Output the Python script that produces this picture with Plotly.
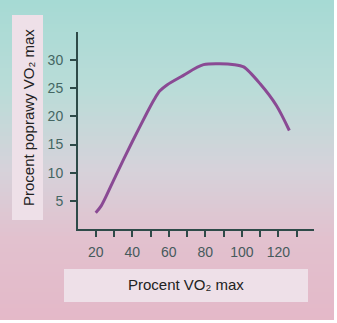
import plotly.graph_objects as go

# Training intensity (% VO2max) vs. improvement of VO2max (%)
intensity = [20, 23, 31, 40, 48, 52, 55, 59, 68, 79, 96, 101, 110, 119, 126]
improvement = [2.9, 4.1, 9.5, 15.5, 20.6, 23.0, 24.5, 25.6, 27.3, 29.2, 29.2, 28.8, 25.8, 21.9, 17.5]

x_tick_vals = [20, 30, 40, 50, 60, 70, 80, 90, 100, 110, 120, 130]
x_tick_text = ["20", "", "40", "", "60", "", "80", "", "100", "", "120", ""]
y_tick_vals = [5, 10, 15, 20, 25, 30]

x_title = "Procent VO₂ max"
y_title = "Procent poprawy VO₂ max"

W, H = 337, 323
L, R, T, B = 78, 23, 32, 94
PW, PH = W - L - R, H - T - B


def px(xp):
    return (xp - L) / PW


def py(yp):
    return (H - B - yp) / PH


def mix(c1, c2, t):
    return "#%02x%02x%02x" % tuple(round(a + (b - a) * t) for a, b in zip(c1, c2))


# vertical background gradient, teal at the top fading to pink at the bottom
stops = [(0, (166, 218, 212)), (90, (186, 220, 216)), (170, (214, 210, 218)),
         (240, (226, 193, 206)), (323, (228, 184, 200))]
shapes = []
step = 4
for y0 in range(0, H, step):
    yc = y0 + step / 2
    for (a, ca), (b, cb) in zip(stops[:-1], stops[1:]):
        if a <= yc <= b:
            col = mix(ca, cb, (yc - a) / (b - a))
            break
    shapes.append(dict(type="rect", xref="paper", yref="paper", layer="below",
                       x0=px(0), x1=px(W), y0=py(y0 + step), y1=py(y0),
                       fillcolor=col, line_width=0))

# white frame on the right and bottom edges
shapes.append(dict(type="rect", xref="paper", yref="paper", layer="below",
                   x0=px(334), x1=px(W), y0=py(H), y1=py(0), fillcolor="white", line_width=0))
shapes.append(dict(type="rect", xref="paper", yref="paper", layer="below",
                   x0=px(0), x1=px(W), y0=py(H), y1=py(320), fillcolor="white", line_width=0))

# label panels
box = "#eee0e8"
shapes.append(dict(type="rect", xref="paper", yref="paper", layer="below",
                   x0=px(12), x1=px(43), y0=py(220), y1=py(15), fillcolor=box, line_width=0))
shapes.append(dict(type="rect", xref="paper", yref="paper", layer="below",
                   x0=px(64), x1=px(308), y0=py(302), y1=py(269), fillcolor=box, line_width=0))

fig = go.Figure(go.Scatter(
    x=intensity, y=improvement, mode="lines",
    line=dict(color="#8a4a94", width=3, shape="spline", smoothing=0.8),
    hoverinfo="skip", showlegend=False,
))

axis_col = "#2e4a48"
font_fam = "Liberation Sans, Arial, sans-serif"

fig.update_layout(
    width=W, height=H,
    margin=dict(l=L, r=R, t=T, b=B, pad=0),
    paper_bgcolor="white", plot_bgcolor="rgba(0,0,0,0)",
    shapes=shapes,
    font=dict(family=font_fam),
    xaxis=dict(range=[10.3, 139.5], showgrid=False, zeroline=False,
               showline=True, linecolor=axis_col, linewidth=2,
               ticks="outside", ticklen=6, tickwidth=2, tickcolor=axis_col,
               tickvals=x_tick_vals, ticktext=x_tick_text,
               tickfont=dict(size=14, color="#465a5c"), ticklabelstandoff=3),
    yaxis=dict(range=[0, 35], showgrid=False, zeroline=False,
               showline=True, linecolor=axis_col, linewidth=2,
               ticks="outside", ticklen=6, tickwidth=2, tickcolor=axis_col,
               tickvals=y_tick_vals,
               tickfont=dict(size=14, color="#456663"), ticklabelstandoff=4),
    annotations=[
        dict(text=y_title, xref="paper", yref="paper", x=px(28), y=py(118),
             textangle=-90, showarrow=False, xanchor="center", yanchor="middle",
             font=dict(size=15, color="#222222", family=font_fam)),
        dict(text=x_title, xref="paper", yref="paper", x=px(186), y=py(284),
             showarrow=False, xanchor="center", yanchor="middle",
             font=dict(size=15, color="#222222", family=font_fam)),
    ],
)

fig.write_html("out.html")
